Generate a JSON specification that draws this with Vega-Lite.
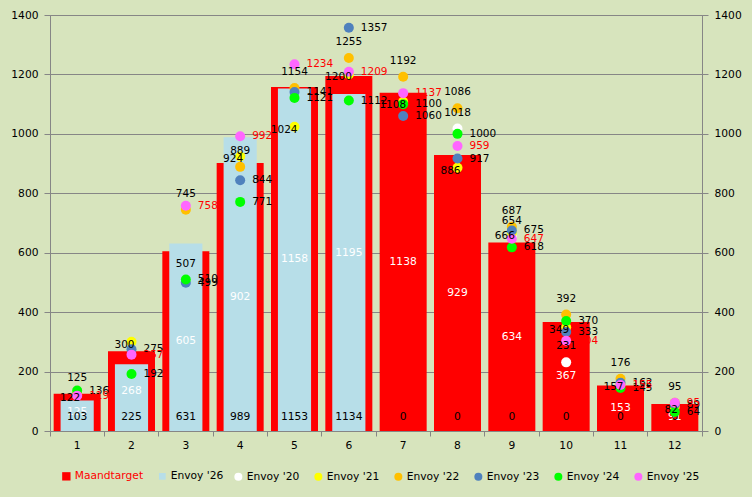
{
  "$schema": "https://vega.github.io/schema/vega-lite/v6.json",
  "width": 652,
  "height": 416,
  "autosize": {"type": "none"},
  "padding": {"left": 50, "top": 15, "right": 50, "bottom": 66},
  "background": "#D7E4BD",
  "config": {
    "font": "DejaVu Sans",
    "view": {"stroke": "#868686", "strokeWidth": 1, "fill": "#D7E4BD"},
    "axis": {"labelFont": "DejaVu Sans", "labelFontSize": 10.7, "labelColor": "#000000", "domainColor": "#868686", "tickColor": "#868686", "title": null},
    "legend": {"labelFont": "DejaVu Sans", "labelFontSize": 10.7, "labelColor": "#000000", "title": null, "orient": "none", "direction": "horizontal", "symbolStrokeWidth": 0, "labelOffset": 3, "columnPadding": 13, "symbolOpacity": 1},
    "text": {"font": "DejaVu Sans", "fontSize": 10.7}
  },
  "datasets": {
    "bars": [
      {"m": 1, "s": "Maandtarget", "v": 125}, {"m": 2, "s": "Maandtarget", "v": 268}, {"m": 3, "s": "Maandtarget", "v": 605},
      {"m": 4, "s": "Maandtarget", "v": 902}, {"m": 5, "s": "Maandtarget", "v": 1158}, {"m": 6, "s": "Maandtarget", "v": 1195},
      {"m": 7, "s": "Maandtarget", "v": 1138}, {"m": 8, "s": "Maandtarget", "v": 929}, {"m": 9, "s": "Maandtarget", "v": 634},
      {"m": 10, "s": "Maandtarget", "v": 367}, {"m": 11, "s": "Maandtarget", "v": 153}, {"m": 12, "s": "Maandtarget", "v": 91},
      {"m": 1, "s": "Envoy '26", "v": 103}, {"m": 2, "s": "Envoy '26", "v": 225}, {"m": 3, "s": "Envoy '26", "v": 631},
      {"m": 4, "s": "Envoy '26", "v": 989}, {"m": 5, "s": "Envoy '26", "v": 1153}, {"m": 6, "s": "Envoy '26", "v": 1134},
      {"m": 7, "s": "Envoy '26", "v": 0}, {"m": 8, "s": "Envoy '26", "v": 0}, {"m": 9, "s": "Envoy '26", "v": 0},
      {"m": 10, "s": "Envoy '26", "v": 0}, {"m": 11, "s": "Envoy '26", "v": 0}, {"m": 12, "s": "Envoy '26", "v": 0}
    ],
    "pts": [
      {"m": 3, "s": "Envoy '20", "v": 507}, {"m": 8, "s": "Envoy '20", "v": 1018}, {"m": 9, "s": "Envoy '20", "v": 654}, {"m": 10, "s": "Envoy '20", "v": 231},
      {"m": 1, "s": "Envoy '21", "v": 122}, {"m": 2, "s": "Envoy '21", "v": 300}, {"m": 4, "s": "Envoy '21", "v": 924}, {"m": 5, "s": "Envoy '21", "v": 1024},
      {"m": 6, "s": "Envoy '21", "v": 1200}, {"m": 7, "s": "Envoy '21", "v": 1108}, {"m": 8, "s": "Envoy '21", "v": 886}, {"m": 9, "s": "Envoy '21", "v": 666},
      {"m": 10, "s": "Envoy '21", "v": 349}, {"m": 11, "s": "Envoy '21", "v": 157}, {"m": 12, "s": "Envoy '21", "v": 82},
      {"m": 1, "s": "Envoy '22", "v": 125}, {"m": 3, "s": "Envoy '22", "v": 745}, {"m": 4, "s": "Envoy '22", "v": 889}, {"m": 5, "s": "Envoy '22", "v": 1154},
      {"m": 6, "s": "Envoy '22", "v": 1255}, {"m": 7, "s": "Envoy '22", "v": 1192}, {"m": 8, "s": "Envoy '22", "v": 1086}, {"m": 9, "s": "Envoy '22", "v": 687},
      {"m": 10, "s": "Envoy '22", "v": 392}, {"m": 11, "s": "Envoy '22", "v": 176}, {"m": 12, "s": "Envoy '22", "v": 95},
      {"m": 2, "s": "Envoy '23", "v": 275}, {"m": 3, "s": "Envoy '23", "v": 499}, {"m": 4, "s": "Envoy '23", "v": 844}, {"m": 5, "s": "Envoy '23", "v": 1141},
      {"m": 6, "s": "Envoy '23", "v": 1357}, {"m": 7, "s": "Envoy '23", "v": 1060}, {"m": 8, "s": "Envoy '23", "v": 917}, {"m": 9, "s": "Envoy '23", "v": 675},
      {"m": 10, "s": "Envoy '23", "v": 333}, {"m": 11, "s": "Envoy '23", "v": 162}, {"m": 12, "s": "Envoy '23", "v": 89},
      {"m": 1, "s": "Envoy '24", "v": 136}, {"m": 2, "s": "Envoy '24", "v": 192}, {"m": 3, "s": "Envoy '24", "v": 510}, {"m": 4, "s": "Envoy '24", "v": 771},
      {"m": 5, "s": "Envoy '24", "v": 1121}, {"m": 6, "s": "Envoy '24", "v": 1112}, {"m": 7, "s": "Envoy '24", "v": 1100}, {"m": 8, "s": "Envoy '24", "v": 1000},
      {"m": 9, "s": "Envoy '24", "v": 618}, {"m": 10, "s": "Envoy '24", "v": 370}, {"m": 11, "s": "Envoy '24", "v": 145}, {"m": 12, "s": "Envoy '24", "v": 64},
      {"m": 1, "s": "Envoy '25", "v": 119}, {"m": 2, "s": "Envoy '25", "v": 257}, {"m": 3, "s": "Envoy '25", "v": 758}, {"m": 4, "s": "Envoy '25", "v": 992},
      {"m": 5, "s": "Envoy '25", "v": 1234}, {"m": 6, "s": "Envoy '25", "v": 1209}, {"m": 7, "s": "Envoy '25", "v": 1137}, {"m": 8, "s": "Envoy '25", "v": 959},
      {"m": 9, "s": "Envoy '25", "v": 647}, {"m": 10, "s": "Envoy '25", "v": 304}, {"m": 11, "s": "Envoy '25", "v": 155}, {"m": 12, "s": "Envoy '25", "v": 95}
    ]
  },
  "layer": [
    {
      "data": {"name": "bars"},
      "transform": [{"filter": {"field": "s", "equal": "Maandtarget"}}],
      "mark": {"type": "bar", "width": {"band": 0.865}, "opacity": 1},
      "encoding": {
        "x": {"field": "m", "type": "ordinal", "scale": {"paddingInner": 0, "paddingOuter": 0},
          "axis": {"orient": "bottom", "bandPosition": 1, "tickExtra": true, "labelOffset": 0, "tickSize": 5, "labelAngle": 0, "labelPadding": 4, "grid": false, "title": null}},
        "y": {"field": "v", "type": "quantitative", "stack": null, "scale": {"domain": [0, 1400], "nice": false},
          "axis": {"orient": "left", "values": [0, 200, 400, 600, 800, 1000, 1200, 1400], "format": "d", "grid": true, "gridColor": "#868686", "gridWidth": 1, "tickSize": 6, "labelPadding": 6, "title": null}},
        "color": {"field": "s", "type": "nominal",
          "scale": {"domain": ["Maandtarget"], "range": ["#FF0000"]},
          "legend": {"legendX": 11, "legendY": 456, "symbolType": "square", "symbolSize": 70, "labelColor": "#FF0000"}}
      }
    },
    {
      "data": {"name": "bars"},
      "transform": [{"filter": {"field": "s", "equal": "Envoy '26"}}],
      "mark": {"type": "bar", "width": {"band": 0.61}, "opacity": 1},
      "encoding": {
        "x": {"field": "m", "type": "ordinal"},
        "y": {"field": "v", "type": "quantitative", "stack": null,
          "axis": {"orient": "right", "values": [0, 200, 400, 600, 800, 1000, 1200, 1400], "format": "d", "grid": false, "tickSize": 6, "labelPadding": 6, "title": null}},
        "color": {"field": "s", "type": "nominal",
          "scale": {"domain": ["Envoy '26"], "range": ["#B7DEE8"]},
          "legend": {"legendX": 107, "legendY": 456, "symbolType": "square", "symbolSize": 45}}
      }
    },
    {
      "data": {"name": "bars"},
      "transform": [{"filter": {"field": "s", "equal": "Maandtarget"}}],
      "mark": {"type": "text", "color": "#FFFFFF", "baseline": "middle", "align": "center"},
      "encoding": {
        "x": {"field": "m", "type": "ordinal"},
        "y": {"field": "v", "type": "quantitative", "stack": "zero", "bandPosition": 0.5, "axis": null},
        "detail": {"field": "s"},
        "text": {"field": "v", "type": "quantitative"}
      }
    },
    {
      "data": {"name": "bars"},
      "transform": [{"filter": {"field": "s", "equal": "Envoy '26"}}],
      "mark": {"type": "text", "color": "#000000", "baseline": "middle", "align": "center", "dy": -14},
      "encoding": {
        "x": {"field": "m", "type": "ordinal"},
        "y": {"datum": 0, "type": "quantitative", "axis": null},
        "text": {"field": "v", "type": "quantitative"}
      }
    },
    {
      "data": {"name": "pts"},
      "mark": {"type": "circle", "size": 100, "opacity": 1},
      "encoding": {
        "x": {"field": "m", "type": "ordinal"},
        "y": {"field": "v", "type": "quantitative", "axis": null},
        "color": {"field": "s", "type": "nominal",
          "scale": {"domain": ["Envoy '20", "Envoy '21", "Envoy '22", "Envoy '23", "Envoy '24", "Envoy '25"],
                    "range": ["#FFFFFF", "#FFFF00", "#FFC000", "#4F81BD", "#00FF00", "#FF66FF"]},
          "legend": {"legendX": 183, "legendY": 456, "symbolType": "circle", "symbolSize": 64}}
      }
    },
    {
      "data": {"name": "pts"},
      "transform": [{"filter": {"field": "s", "oneOf": ["Envoy '20", "Envoy '22"]}}],
      "mark": {"type": "text", "color": "#000000", "baseline": "middle", "align": "center", "dy": -16, "fontSize": 10.5},
      "encoding": {
        "x": {"field": "m", "type": "ordinal"},
        "y": {"field": "v", "type": "quantitative", "axis": null},
        "text": {"field": "v", "type": "quantitative"}
      }
    },
    {
      "data": {"name": "pts"},
      "transform": [{"filter": {"field": "s", "equal": "Envoy '21"}}],
      "mark": {"type": "text", "color": "#000000", "baseline": "middle", "align": "right", "dx": 3, "dy": 3, "fontSize": 10.5},
      "encoding": {
        "x": {"field": "m", "type": "ordinal"},
        "y": {"field": "v", "type": "quantitative", "axis": null},
        "text": {"field": "v", "type": "quantitative"}
      }
    },
    {
      "data": {"name": "pts"},
      "transform": [{"filter": {"field": "s", "oneOf": ["Envoy '23", "Envoy '24", "Envoy '25"]}}],
      "mark": {"type": "text", "baseline": "middle", "align": "left", "dx": 12, "fontSize": 10.5},
      "encoding": {
        "x": {"field": "m", "type": "ordinal"},
        "y": {"field": "v", "type": "quantitative", "axis": null},
        "text": {"field": "v", "type": "quantitative"},
        "color": {"condition": {"test": {"field": "s", "equal": "Envoy '25"}, "value": "#FF0000"}, "value": "#000000"}
      }
    }
  ],
  "resolve": {"axis": {"y": "independent"}, "scale": {"color": "independent"}}
}
